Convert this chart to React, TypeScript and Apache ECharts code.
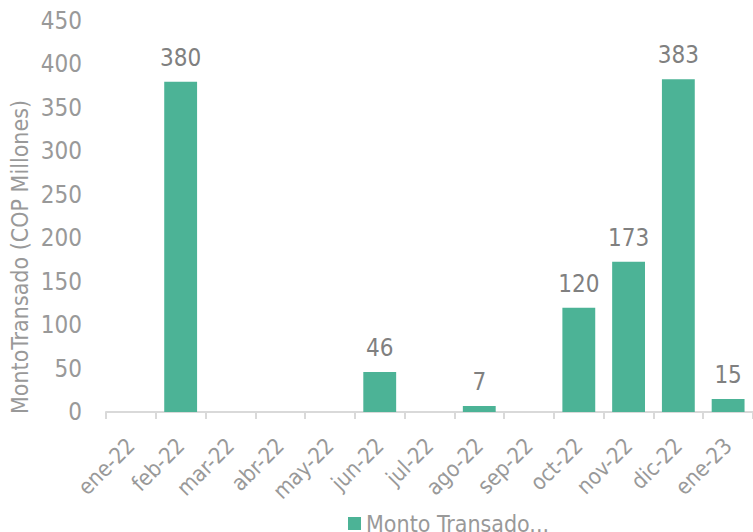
import React, { useEffect, useRef } from "react";
import * as echarts from "echarts";

const categories = ["ene-22", "feb-22", "mar-22", "abr-22", "may-22", "jun-22", "jul-22", "ago-22", "sep-22", "oct-22", "nov-22", "dic-22", "ene-23"];
const values = [0, 380, 0, 0, 0, 46, 0, 7, 0, 120, 173, 383, 15];
const seriesName = "Monto Transado...";
const yAxisTitle = "MontoTransado (COP Millones)";

const FONT = "'DejaVu Sans Condensed', 'Liberation Sans', sans-serif";

export default function App() {
  const ref = useRef<HTMLDivElement>(null);
  useEffect(() => {
    if (!ref.current) return;
    const chart = echarts.init(ref.current, undefined, { renderer: "svg" });
    chart.setOption({
      animation: false,
      textStyle: { fontFamily: FONT },
      grid: { left: 106, right: -1, top: 21, bottom: 120, containLabel: false },
      legend: {
        bottom: -8,
        left: 343,
        itemWidth: 13,
        itemHeight: 13,
        itemGap: 6,
        icon: "rect",
        textStyle: { color: "#999999", fontSize: 23, fontFamily: FONT },
        data: [seriesName],
      },
      graphic: [
        {
          type: "text",
          x: 20,
          y: 257,
          rotation: Math.PI / 2,
          style: {
            text: yAxisTitle,
            fill: "#999999",
            fontSize: 23,
            fontFamily: FONT,
            align: "center",
            verticalAlign: "middle",
          },
        },
      ],
      xAxis: {
        type: "category",
        data: categories,
        axisLine: { show: true, lineStyle: { color: "#d9d9d9", width: 2 } },
        axisTick: { show: true, length: 7, lineStyle: { color: "#d9d9d9", width: 2 } },
        axisLabel: { rotate: 45, color: "#999999", fontSize: 22, margin: 30, interval: 0, fontFamily: FONT },
      },
      yAxis: {
        type: "value",
        min: 0,
        max: 450,
        interval: 50,
        axisLine: { show: false },
        axisTick: { show: false },
        splitLine: { show: false },
        axisLabel: { color: "#999999", fontSize: 24, margin: 24, fontFamily: FONT },
      },
      series: [
        {
          name: seriesName,
          type: "bar",
          data: values,
          barCategoryGap: "34%",
          itemStyle: { color: "#4cb396" },
          label: {
            show: true,
            position: "top",
            distance: 12,
            color: "#808080",
            fontSize: 24,
            fontFamily: FONT,
            formatter: (p: any) => (p.value === 0 ? "" : String(p.value)),
          },
        },
      ],
    });
    return () => chart.dispose();
  }, []);
  return <div ref={ref} style={{ width: 753, height: 532, position: "absolute", left: 0, top: 0 }} />;
}
